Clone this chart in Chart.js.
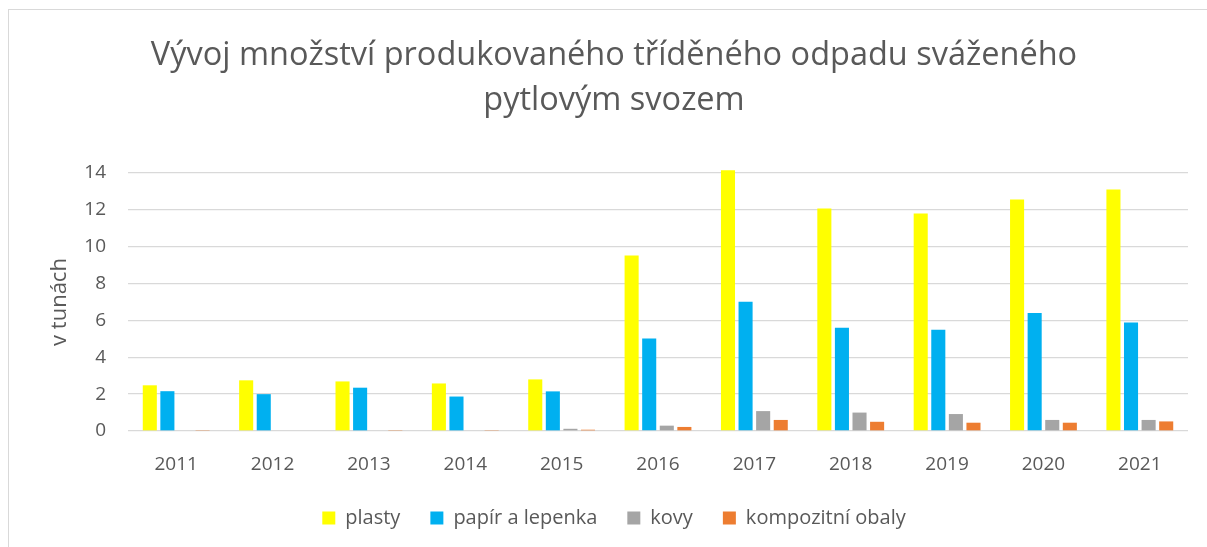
<!DOCTYPE html>
<html>
<head>
<meta charset="utf-8">
<script src="https://cdn.jsdelivr.net/npm/chart.js@4.4.1/dist/chart.umd.min.js"></script>
<style>
  html, body { margin: 0; padding: 0; background: #ffffff; }
  #wrap { position: relative; width: 1207px; height: 547px; overflow: hidden; background: #fff; }
  #frame { position: absolute; left: 8px; top: 9px; width: 1220px; height: 560px; border: 1.5px solid #d9d9d9; box-sizing: border-box; pointer-events: none; }
  canvas { position: absolute; left: 0; top: 0; }
</style>
</head>
<body>
<div id="wrap">
  <canvas id="c" width="1207" height="547"></canvas>
  <div id="frame"></div>
</div>
<script>
const categories = ["2011", "2012", "2013", "2014", "2015", "2016", "2017", "2018", "2019", "2020", "2021"];
const plasty = [2.48, 2.75, 2.69, 2.58, 2.80, 9.53, 14.15, 12.08, 11.81, 12.57, 13.11];
const papir = [2.16, 2.00, 2.35, 1.87, 2.15, 5.02, 7.01, 5.61, 5.50, 6.41, 5.89];
const kovy = [0, 0, 0, 0, 0.12, 0.29, 1.08, 1.00, 0.92, 0.60, 0.60];
const kompozitni = [0.02, 0, 0.02, 0.05, 0.07, 0.22, 0.60, 0.50, 0.45, 0.45, 0.52];
const yTicks = [0, 2, 4, 6, 8, 10, 12, 14];
const seriesNames = ["plasty", "papír a lepenka", "kovy", "kompozitní obaly"];
const titleLines = ["Vývoj množství produkovaného tříděného odpadu sváženého", "pytlovým svozem"];
const yTitle = "v tunách";

const FONT = "'Open Sans', 'Noto Sans', sans-serif";
const TXT = "#595959";

new Chart(document.getElementById('c'), {
  type: 'bar',
  data: {
    labels: categories,
    datasets: [
      { label: seriesNames[0], data: plasty, backgroundColor: '#FFFF00' },
      { label: seriesNames[1], data: papir, backgroundColor: '#00B0F0' },
      { label: seriesNames[2], data: kovy, backgroundColor: '#A5A5A5' },
      { label: seriesNames[3], data: kompozitni, backgroundColor: '#ED7D31' }
    ]
  },
  options: {
    responsive: false,
    animation: false,
    devicePixelRatio: 1,
    layout: { padding: { left: 40, right: 19, top: 21, bottom: 9 } },
    datasets: { bar: { categoryPercentage: 0.73, barPercentage: 0.8, borderWidth: 0, clip: false } },
    plugins: {
      title: {
        display: true,
        text: titleLines,
        color: TXT,
        font: { family: FONT, size: 32.5, weight: 'normal', lineHeight: 1.385 },
        padding: { top: 12, bottom: 50 }
      },
      legend: {
        display: true,
        position: 'bottom',
        labels: {
          color: TXT,
          font: { family: FONT, size: 20 },
          boxWidth: 13,
          boxHeight: 13,
          padding: 30
        }
      },
      tooltip: { enabled: false }
    },
    scales: {
      x: {
        grid: { display: false, drawTicks: false },
        border: { display: false },
        ticks: { color: TXT, font: { family: FONT, size: 19 }, padding: 22, maxRotation: 0 },
        afterFit: (s) => { s.height = 47; }
      },
      y: {
        min: 0, max: 14,
        afterBuildTicks: (s) => { s.ticks = yTicks.map(v => ({ value: v })); },
        grid: { color: '#d9d9d9', lineWidth: 1.3, drawTicks: false },
        border: { display: false },
        ticks: { color: TXT, font: { family: FONT, size: 19 }, padding: 22 },
        title: { display: true, text: yTitle, color: TXT, font: { family: FONT, size: 22 }, padding: { top: 7, bottom: 0 } },
        afterFit: (s) => { s.width = 88; }
      }
    }
  }
});
</script>
</body>
</html>
